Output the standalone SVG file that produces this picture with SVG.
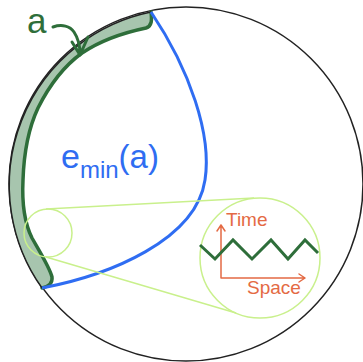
<svg xmlns="http://www.w3.org/2000/svg" width="363" height="362" viewBox="0 0 363 362">
<style>
.thin{fill:none;stroke:#c9f08c;stroke-width:1.5}
.axis{fill:none;stroke:#e46a44;stroke-width:1.5;stroke-linecap:round;stroke-linejoin:round}
.lbl{font-family:"Liberation Sans",Arial,sans-serif}
</style>
<rect width="363" height="362" fill="#fff"/>
<g id="disk">
<circle cx="186" cy="184" r="177" fill="none" stroke="#222" stroke-width="1.5"/>
</g>
<g id="region-a">
<path d="M151,12 A177,177 0 0,0 42,288 C47,287 53,284 52,277 C50,268 40,252 32,238 C24,222 22,200 23,180 C24,150 30,125 38,108 C50,84 64,66 82,53 C100,41 122,33 146,28 C152,26 152,20 151,12 Z" fill="#a7c5ae" stroke="none"/>
<path d="M42,288 C47,287 53,284 52,277 C50,268 40,252 32,238 C24,222 22,200 23,180 C24,150 30,125 38,108 C50,84 64,66 82,53 C100,41 122,33 146,28 C152,26 152,20 151,12" fill="none" stroke="#2e6e3a" stroke-width="3.5" stroke-linecap="round"/>
<path d="M151,12 A177,177 0 0,0 42,288" fill="none" stroke="#222" stroke-width="1.5"/>
</g>
<g id="label-a">
<text class="lbl" x="27" y="33" font-size="35" fill="#2e6e3a">a</text>
<path d="M53,27 C62,24 70,26 74,32 C78,38 80,46 80,54 M72,42 L80,55 L88,37" fill="none" stroke="#2e6e3a" stroke-width="3" stroke-linecap="round" stroke-linejoin="round"/>
</g>
<g id="emin">
<path d="M151,12 C190,70 212,135 205,180 C196,240 110,275 42,288" fill="none" stroke="#2f6df2" stroke-width="3"/>
<text class="lbl" x="61" y="168" font-size="34" fill="#2f6df2">e<tspan font-size="24" dy="10">min</tspan><tspan dy="-10" font-size="33">(a)</tspan></text>
</g>
<g id="zoom">
<circle class="thin" cx="48" cy="233" r="24"/>
<circle class="thin" cx="260" cy="258" r="60"/>
<line class="thin" x1="46" y1="209" x2="254" y2="198"/>
<line class="thin" x1="46" y1="257" x2="236" y2="313"/>
</g>
<g id="inset">
<path class="axis" d="M221,278 L221,225 M217,231 L221,225 L225,231 M221,278 L305,278 M299,274 L305,278 L299,282"/>
<text class="lbl" x="226" y="226" font-size="19" fill="#e46a44">Time</text>
<text class="lbl" x="247" y="294" font-size="19" fill="#e46a44">Space</text>
<polyline points="200,245 215,259 233,240 252,259 271,240 288,259 305,240 318,253" fill="none" stroke="#2e6e3a" stroke-width="3" stroke-linejoin="miter"/>
</g>
</svg>
